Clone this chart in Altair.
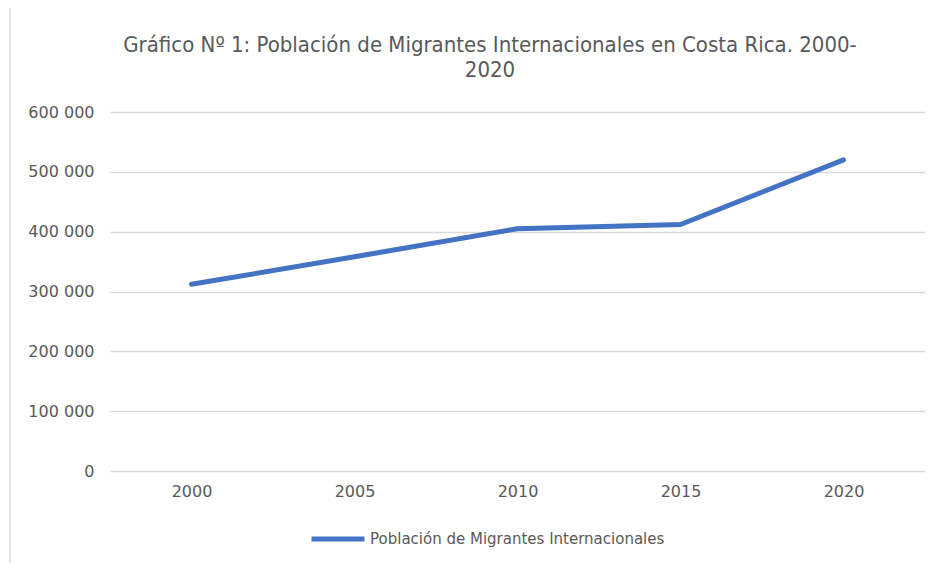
import altair as alt
import pandas as pd

years = ["2000", "2005", "2010", "2015", "2020"]
values = [312000, 358000, 405000, 412000, 520000]
series_name = "Población de Migrantes Internacionales"
y_ticks = [0, 100000, 200000, 300000, 400000, 500000, 600000]
title_lines = ["Gráfico Nº 1: Población de Migrantes Internacionales en Costa Rica. 2000-", "2020"]

df = pd.DataFrame({"year": years, "value": values, "serie": [series_name] * len(years)})

line = alt.Chart(df).mark_line(strokeWidth=5, strokeCap="round", strokeJoin="round").encode(
    x=alt.X("year:O", sort=years, title=None,
            scale=alt.Scale(type="point", padding=0.5),
            axis=alt.Axis(labelAngle=0, labelFont="DejaVu Sans", labelFontSize=16,
                          labelColor="#595959", labelPadding=12, ticks=False, domain=False,
                          grid=False)),
    y=alt.Y("value:Q", title=None,
            scale=alt.Scale(domain=[0, 600000]),
            axis=alt.Axis(values=y_ticks, labelFont="DejaVu Sans", labelFontSize=16,
                          labelColor="#595959", labelPadding=16, ticks=False, domain=False,
                          gridColor="#d9d9d9", gridWidth=1.5,
                          labelExpr="replace(format(datum.value, ','), regexp(',', 'g'), ' ')")),
    color=alt.Color("serie:N", title=None,
                    scale=alt.Scale(range=["#4472C4"]),
                    legend=alt.Legend(orient="none", legendX=199, legendY=398,
                                      symbolType="stroke", symbolSize=2809, symbolStrokeWidth=5,
                                      labelFont="DejaVu Sans", labelFontSize=15,
                                      labelColor="#595959", labelOffset=3, labelLimit=0)),
)

border = alt.Chart(pd.DataFrame({"a": [0]})).mark_rule(color="#d9d9d9", strokeWidth=1.5).encode(
    x=alt.value(-100), y=alt.value(-120), y2=alt.value(470)
)

title1 = alt.Chart(pd.DataFrame({"t": [title_lines[0]]})).mark_text(
    font="DejaVu Sans Condensed", fontSize=22, color="#595959", align="center", baseline="middle"
).encode(text="t:N", x=alt.value(380), y=alt.value(-67))
title2 = alt.Chart(pd.DataFrame({"t": [title_lines[1]]})).mark_text(
    font="DejaVu Sans Condensed", fontSize=22, color="#595959", align="center", baseline="middle"
).encode(text="t:N", x=alt.value(380), y=alt.value(-42))

chart = alt.layer(border, title1, title2, line).properties(
    width=815, height=359,
    padding={"left": 102, "top": 104, "right": 10, "bottom": 92},
    autosize=alt.AutoSizeParams(type="none"),
).configure(background="white").configure_view(strokeWidth=0, strokeOpacity=0)

chart.save("out.html", embed_options={"renderer": "svg", "actions": False})
